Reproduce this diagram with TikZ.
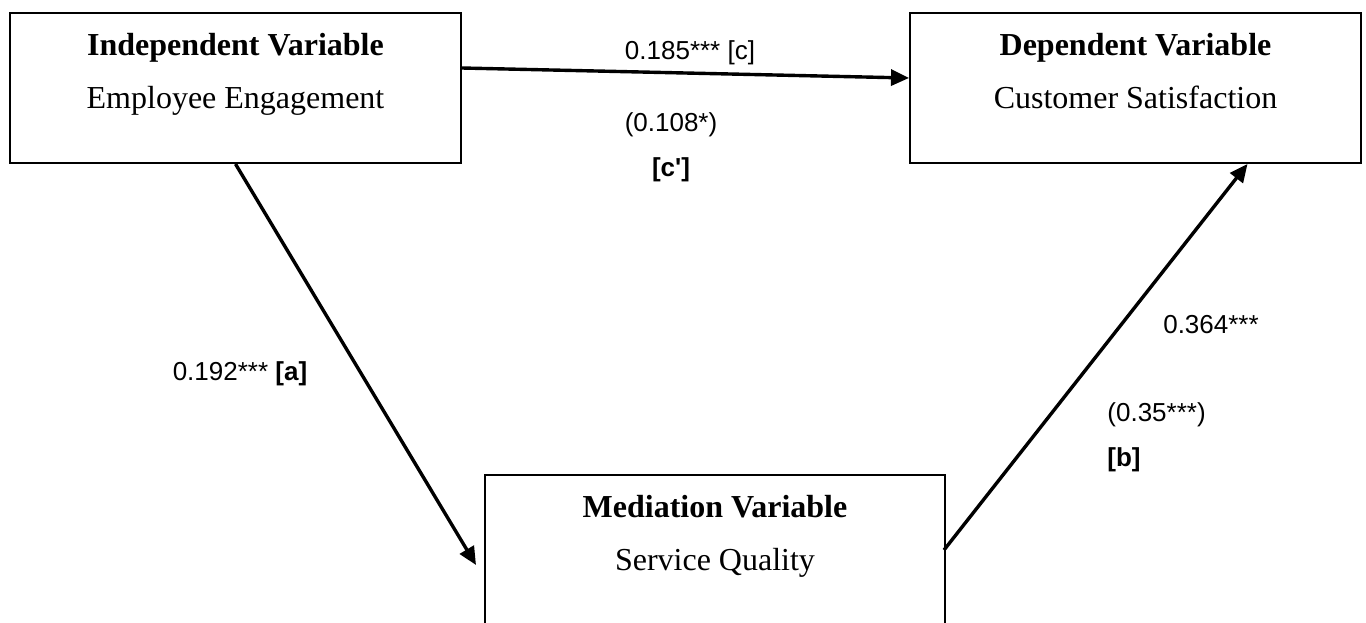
\documentclass[tikz,border=0pt]{standalone}
\usepackage{fontspec}
\setmainfont{Liberation Serif}
\setsansfont{Liberation Sans}
\usetikzlibrary{positioning,arrows.meta}

\tikzset{
  varbox/.style={draw, line width=1pt, minimum width=#1, minimum height=75pt,
    inner sep=0pt, align=center, font=\fontsize{16}{26.5}\selectfont,
    text height=47.5pt, text depth=27.5pt},
  effect/.style={line width=1.7pt, -{Triangle[length=9pt,width=8pt]}},
  coef/.style={inner sep=0pt, font=\sffamily\fontsize{13}{22.5}\selectfont}
}

\begin{document}
\begin{tikzpicture}[x=0.5pt,y=-0.5pt]

\useasboundingbox (0,0) rectangle (1366,622);

% variables
\node[varbox=225.5pt] (indep) at (235.5,88) {\textbf{Independent Variable}\\Employee Engagement};
\node[varbox=225.5pt] (dep) at (1135.5,88) {\textbf{Dependent Variable}\\Customer Satisfaction};
\node[varbox=230pt] (med) at (715,550) {\textbf{Mediation Variable}\\Service Quality};

% total / direct effect
\draw[effect] ([yshift=10pt]indep.east) -- ([yshift=5pt]dep.west);

% path a
\draw[effect] (indep.south) -- ([xshift=-4pt,yshift=-7.5pt]med.west);

% path b
\draw[effect] ([xshift=-1pt]med.east) -- ([xshift=56pt]dep.south);

% coefficients
\node[coef] (cval) at (690,53) {0.185*** [c]};
\node[coef, align=center] (cpval) at (671,147) {(0.108*)\\\textbf{[c\textquotesingle]}};
\node[coef] (aval) at (240,374) {0.192*** \textbf{[a]}};
\node[coef] (bval) at (1211,325) {0.364***};
\node[coef, align=left, anchor=west] (bpval) at (1107,437) {(0.35***)\\\textbf{[b]}};

\end{tikzpicture}
\end{document}
